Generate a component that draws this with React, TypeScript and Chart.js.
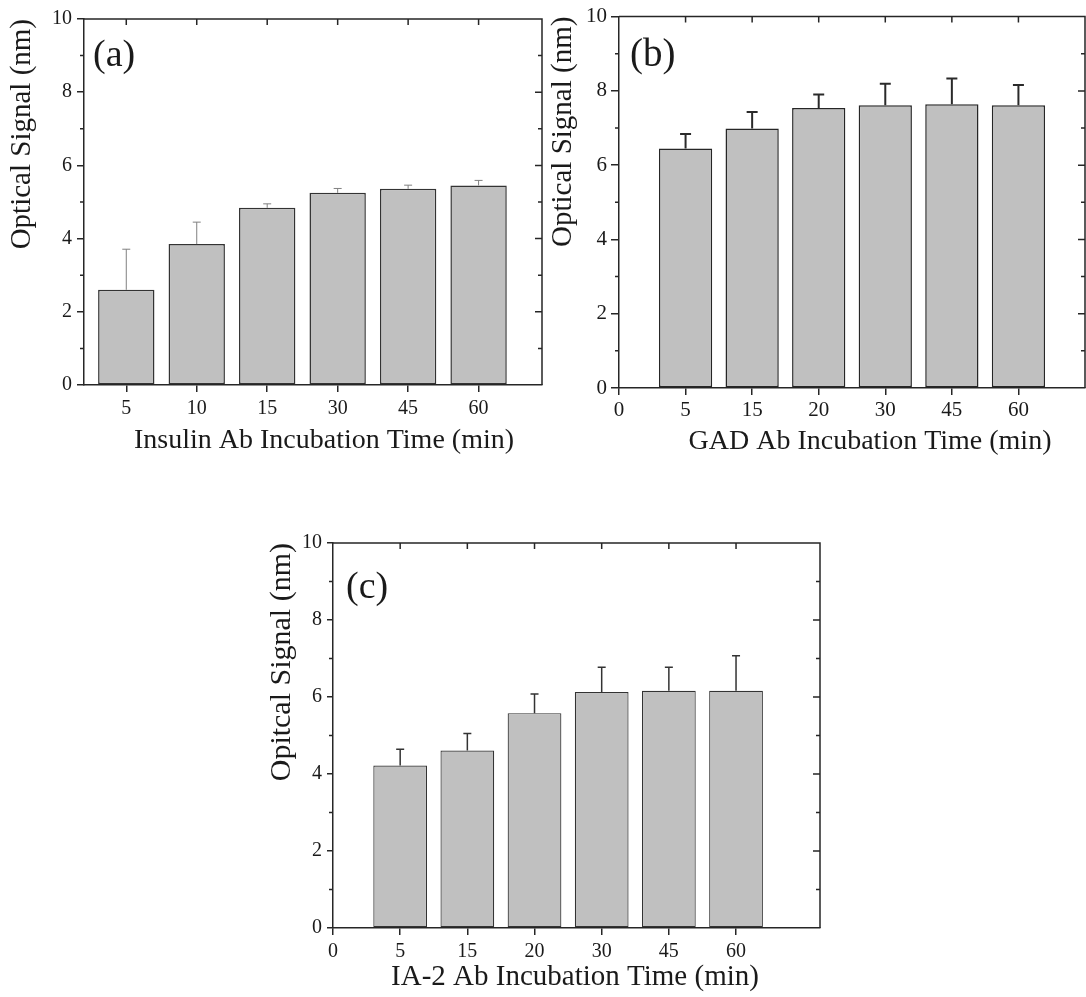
import React, { useEffect, useRef } from 'react';
import { Chart, registerables } from 'chart.js';

Chart.register(...registerables);

// ---------- data ----------
const insulinTimes = ['5', '10', '15', '30', '45', '60'];
const insulinSignal = [2.6, 3.85, 4.84, 5.25, 5.36, 5.45];
const insulinError = [1.11, 0.6, 0.11, 0.12, 0.1, 0.14];

const gadTimes = ['5', '15', '20', '30', '45', '60'];
const gadSignal = [6.45, 6.99, 7.54, 7.61, 7.64, 7.61];
const gadError = [0.39, 0.44, 0.36, 0.58, 0.69, 0.55];

const ia2Times = ['5', '15', '20', '30', '45', '60'];
const ia2Signal = [4.22, 4.61, 5.58, 6.13, 6.16, 6.16];
const ia2Error = [0.42, 0.44, 0.5, 0.64, 0.61, 0.91];

const yTickValues = [0, 2, 4, 6, 8, 10];
const yMinorValues = [1, 3, 5, 7, 9];

// ---------- styles ----------
const FONT = '"Liberation Serif", "Times New Roman", serif';
const TEXT = '#1a1a1a';
const AXIS = '#262626';
const BAR_FILL = '#c0c0c0';

type PanelCfg = {
  tag: string;
  times: string[];
  signal: number[];
  error: number[];
  zeroTick: boolean;
  xTitle: string;
  yTitle: string;
  left: number;
  top: number;
  w: number;
  h: number;
  area: { left: number; top: number; right: number; bottom: number };
  xMin: number;
  xMax: number;
  tickSize: number;
  xTickPad: number;
  yTickPad: number;
  yTickLen: number;
  yTitleSize: number;
  yTitlePad: number;
  xTitleSize: number;
  xTitleX: number;
  xTitleY: number;
  tagSize: number;
  tagX: number;
  tagY: number;
  errColor: string;
  errWidth: number;
  cap: number;
  barEdge: string;
  barEdgeWidth: number;
};

const panels: PanelCfg[] = [
  {
    tag: '(a)', times: insulinTimes, signal: insulinSignal, error: insulinError, zeroTick: false,
    xTitle: 'Insulin Ab Incubation Time (min)', yTitle: 'Optical Signal (nm)',
    left: 0, top: 0, w: 548, h: 470, area: { left: 84, top: 19, right: 542, bottom: 385 },
    xMin: 0.4, xMax: 6.9, tickSize: 20, xTickPad: 5, yTickPad: 5, yTickLen: 7,
    yTitleSize: 29, yTitlePad: 5, xTitleSize: 28, xTitleX: 324, xTitleY: 441,
    tagSize: 38, tagX: 93, tagY: 66,
    errColor: '#808080', errWidth: 1, cap: 8, barEdge: '#333333', barEdgeWidth: 1.5,
  },
  {
    tag: '(b)', times: gadTimes, signal: gadSignal, error: gadError, zeroTick: true,
    xTitle: 'GAD Ab Incubation Time (min)', yTitle: 'Optical Signal (nm)',
    left: 540, top: 0, w: 546, h: 470, area: { left: 79, top: 14, right: 545, bottom: 388 },
    xMin: 0, xMax: 7, tickSize: 21, xTickPad: 3, yTickPad: 4, yTickLen: 8,
    yTitleSize: 29, yTitlePad: 6, xTitleSize: 28, xTitleX: 330, xTitleY: 442,
    tagSize: 39, tagX: 90, tagY: 66,
    errColor: '#2a2a2a', errWidth: 2, cap: 11, barEdge: '#262626', barEdgeWidth: 1.5,
  },
  {
    tag: '(c)', times: ia2Times, signal: ia2Signal, error: ia2Error, zeroTick: true,
    xTitle: 'IA-2 Ab Incubation Time (min)', yTitle: 'Opitcal Signal (nm)',
    left: 260, top: 520, w: 566, h: 477, area: { left: 73, top: 23, right: 560, bottom: 408 },
    xMin: 0, xMax: 7.25, tickSize: 20, xTickPad: 5, yTickPad: 5, yTickLen: 6,
    yTitleSize: 30, yTitlePad: 4, xTitleSize: 29, xTitleX: 315, xTitleY: 457,
    tagSize: 38, tagX: 86, tagY: 78,
    errColor: '#333333', errWidth: 1.5, cap: 8, barEdge: '#333333', barEdgeWidth: 1.2,
  },
];

function makeDecor(cfg: PanelCfg) {
  return {
    id: 'decor',
    afterDraw(chart: any) {
      const { ctx, chartArea: a } = chart;
      const xs = chart.scales.x;
      const ys = chart.scales.y;
      ctx.save();
      ctx.lineCap = 'butt';

      // error bars (upper half)
      const meta = chart.getDatasetMeta(0);
      ctx.strokeStyle = cfg.errColor;
      ctx.lineWidth = cfg.errWidth;
      meta.data.forEach((bar: any, i: number) => {
        const y0 = ys.getPixelForValue(cfg.signal[i]);
        const y1 = ys.getPixelForValue(cfg.signal[i] + cfg.error[i]);
        ctx.beginPath();
        ctx.moveTo(bar.x, y0);
        ctx.lineTo(bar.x, y1);
        ctx.moveTo(bar.x - cfg.cap / 2, y1);
        ctx.lineTo(bar.x + cfg.cap / 2, y1);
        ctx.stroke();
      });

      // top and right frame
      ctx.strokeStyle = AXIS;
      ctx.lineWidth = 1.5;
      ctx.beginPath();
      ctx.moveTo(a.left, a.top);
      ctx.lineTo(a.right, a.top);
      ctx.lineTo(a.right, a.bottom);
      ctx.stroke();

      // mirror / minor ticks
      ctx.beginPath();
      xs.ticks.forEach((t: any) => {
        if (t.value <= xs.min) return;
        const px = xs.getPixelForValue(t.value);
        ctx.moveTo(px, a.top);
        ctx.lineTo(px, a.top + 6);
      });
      yTickValues.forEach((v) => {
        if (v <= 0 || v >= 10) return;
        const py = ys.getPixelForValue(v);
        ctx.moveTo(a.right, py);
        ctx.lineTo(a.right - 7, py);
      });
      yMinorValues.forEach((v) => {
        const py = ys.getPixelForValue(v);
        ctx.moveTo(a.right, py);
        ctx.lineTo(a.right - 4, py);
        ctx.moveTo(a.left, py);
        ctx.lineTo(a.left - 4, py);
      });
      ctx.stroke();

      // x-axis title and panel tag
      ctx.fillStyle = TEXT;
      ctx.font = `${cfg.xTitleSize}px ${FONT}`;
      ctx.textAlign = 'center';
      ctx.textBaseline = 'middle';
      ctx.fillText(cfg.xTitle, cfg.xTitleX, cfg.xTitleY);
      ctx.font = `${cfg.tagSize}px ${FONT}`;
      ctx.textAlign = 'left';
      ctx.textBaseline = 'alphabetic';
      ctx.fillText(cfg.tag, cfg.tagX, cfg.tagY);
      ctx.restore();
    },
  };
}

function PanelChart({ cfg }: { cfg: PanelCfg }) {
  const ref = useRef<HTMLCanvasElement>(null);

  useEffect(() => {
    const canvas = ref.current;
    if (!canvas) return;
    const positions = cfg.times.map((_, i) => i + 1);
    const tickValues = cfg.zeroTick ? [0, ...positions] : positions;
    const tickLabels = cfg.zeroTick ? ['0', ...cfg.times] : cfg.times;
    const labelFor = (v: number) => {
      const k = tickValues.indexOf(v);
      return k >= 0 ? tickLabels[k] : '';
    };

    const chart = new Chart(canvas, {
      type: 'bar',
      data: {
        datasets: [
          {
            data: positions.map((x, i) => ({ x, y: cfg.signal[i] })),
            backgroundColor: BAR_FILL,
            borderColor: cfg.barEdge,
            borderWidth: cfg.barEdgeWidth,
            borderSkipped: false,
            categoryPercentage: 1,
            barPercentage: 0.8,
          } as any,
        ],
      },
      options: {
        responsive: false,
        maintainAspectRatio: false,
        animation: false,
        events: [],
        layout: {
          padding: { left: 0, top: cfg.area.top, right: cfg.w - cfg.area.right, bottom: 0 },
        },
        plugins: { legend: { display: false }, tooltip: { enabled: false }, title: { display: false } },
        scales: {
          x: {
            type: 'linear',
            min: cfg.xMin,
            max: cfg.xMax,
            offset: false,
            afterBuildTicks: (s: any) => {
              s.ticks = tickValues.map((value) => ({ value }));
            },
            afterFit: (s: any) => {
              s.height = cfg.h - cfg.area.bottom;
            },
            grid: {
              offset: false,
              drawOnChartArea: false,
              drawTicks: true,
              tickLength: 7,
              tickColor: AXIS,
              tickWidth: 1.5,
              color: AXIS,
              lineWidth: 1.5,
            },
            border: { display: true, color: AXIS, width: 1.5 },
            ticks: {
              autoSkip: false,
              maxRotation: 0,
              minRotation: 0,
              padding: cfg.xTickPad,
              color: TEXT,
              font: { family: FONT, size: cfg.tickSize },
              callback: (v: any) => labelFor(Number(v)),
            },
          },
          y: {
            type: 'linear',
            min: 0,
            max: 10,
            afterBuildTicks: (s: any) => {
              s.ticks = yTickValues.map((value) => ({ value }));
            },
            afterFit: (s: any) => {
              s.width = cfg.area.left;
            },
            grid: {
              drawOnChartArea: false,
              drawTicks: true,
              tickLength: cfg.yTickLen,
              tickColor: AXIS,
              tickWidth: 1.5,
              color: AXIS,
              lineWidth: 1.5,
            },
            border: { display: true, color: AXIS, width: 1.5 },
            ticks: {
              padding: cfg.yTickPad,
              color: TEXT,
              font: { family: FONT, size: cfg.tickSize },
              callback: (v: any) => String(v),
            },
            title: {
              display: true,
              text: cfg.yTitle,
              align: 'end',
              color: TEXT,
              font: { family: FONT, size: cfg.yTitleSize },
              padding: { top: cfg.yTitlePad, bottom: 0 },
            },
          },
        },
      } as any,
      plugins: [makeDecor(cfg)],
    });
    return () => chart.destroy();
  }, [cfg]);

  return (
    <canvas
      ref={ref}
      width={cfg.w}
      height={cfg.h}
      style={{ position: 'absolute', left: cfg.left, top: cfg.top, width: cfg.w, height: cfg.h }}
    />
  );
}

export default function App() {
  return (
    <div style={{ position: 'absolute', left: 0, top: 0, width: 1086, height: 997, background: '#ffffff', overflow: 'hidden' }}>
      {panels.map((p) => (
        <PanelChart key={p.tag} cfg={p} />
      ))}
    </div>
  );
}
